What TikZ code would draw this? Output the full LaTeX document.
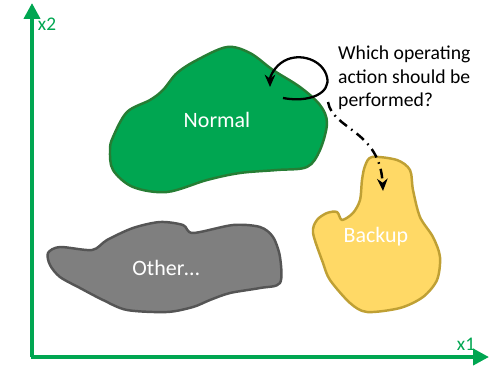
\documentclass[tikz,border=0pt]{standalone}
\usepackage{fontspec}
\setmainfont{Carlito}
\usetikzlibrary{arrows.meta}

\definecolor{stategreen}{RGB}{0,166,81}
\definecolor{stategreendark}{RGB}{38,125,52}
\definecolor{backupfill}{RGB}{255,217,102}
\definecolor{backupline}{RGB}{191,160,52}
\definecolor{otherfill}{RGB}{127,127,127}
\definecolor{otherline}{RGB}{85,85,85}

\begin{document}
\begin{tikzpicture}[x=0.02cm,y=-0.02cm,
	axis/.style={draw=stategreen,line width=2.2pt,-{Triangle[length=9pt,width=9pt]}},
	axis label/.style={text=stategreen,font=\fontsize{11}{13}\selectfont},
	region/.style={line width=1.4pt,line join=round},
	region label/.style={text=white,font=\fontsize{12.5}{15}\selectfont},
	loop arrow/.style={line width=1.3pt,-{Stealth[length=7pt,width=6pt]}},
	ask arrow/.style={line width=1.4pt,dash pattern=on 5.5pt off 3pt on 0.9pt off 3pt,-{Stealth[length=7pt,width=6pt]}},
	question/.style={anchor=north west,align=left,font=\fontsize{11.2}{13.4}\selectfont}]

	\useasboundingbox (0,0) rectangle (491,366);

	% axes
	\coordinate (origin) at (32,357);
	\coordinate (x1end) at (489,357);
	\coordinate (x2end) at (32,3);
	\draw[axis] (origin) -- (x2end);
	\draw[axis] ([xshift=-0.5pt]origin) -- (x1end);
	\node[axis label] (x2) at (47,24) {x2};
	\node[axis label] (x1) at (466,344) {x1};

	% state regions
	\draw[region,draw=stategreendark,fill=stategreen] plot[smooth cycle,tension=0.55] coordinates {
		(113,137) (127,112) (150,100) (163,90) (177,73) (197,60) (227,47) (250,53)
		(273,70) (300,87) (320,105) (327,123) (320,150) (307,167) (277,170)
		(240,173) (207,180) (167,192) (133,187) (113,170) (110,150)};
	\draw[region,draw=backupline,fill=backupfill] plot[smooth cycle,tension=0.5] coordinates {
		(372,157) (397,160) (410,170) (413,190) (420,217) (433,237) (440,257)
		(437,280) (423,297) (400,308) (367,312) (350,303) (330,280) (323,263)
		(313,233) (317,220) (327,213) (337,212) (342,220) (353,213) (360,200)
		(362,180) (365,166)};
	\draw[region,draw=otherline,fill=otherfill] plot[smooth cycle,tension=0.5] coordinates {
		(48,253) (60,247) (92,250) (107,240) (133,228) (160,222) (183,225)
		(193,233) (233,225) (260,227) (273,237) (280,257) (280,283) (260,288)
		(230,293) (210,300) (193,307) (167,312) (127,310) (103,300) (80,288)
		(60,277) (50,265)};

	\node[region label] (normal) at (217,120) {Normal};
	\node[region label] (backup) at (376,237) {Backup};
	\node[region label] (other) at (166,268) {Other\dots};

	% staying in normal operation
	\coordinate (loopstart) at (283,98);
	\coordinate (looptip) at (270,87);
	\draw[loop arrow] (loopstart) .. controls (310,103) and (331,93) .. (327,77)
		.. controls (323,60) and (300,52) .. (284,61)
		.. controls (275,66) and (270,76) .. (looptip);

	% switching over to backup
	\coordinate (askstart) at (328,102);
	\coordinate (asktip) at (383,191);
	\draw[ask arrow] (askstart) .. controls (333,130) and (380,130) .. (asktip);

	\node[question] (ask) at (332,40) {Which operating\\action should be\\performed?};

\end{tikzpicture}
\end{document}
